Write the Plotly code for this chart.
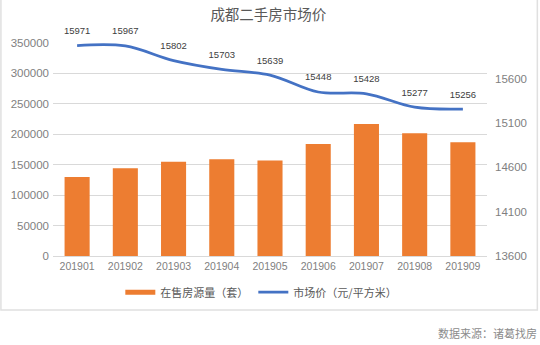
import plotly.graph_objects as go

# Chengdu second-hand housing: listings on sale vs. market price, 2019
months = ["201901", "201902", "201903", "201904", "201905",
          "201906", "201907", "201908", "201909"]
listings = [130000, 144000, 155000, 159000, 157000, 184000, 217000, 201500, 187000]
prices = [15971, 15967, 15802, 15703, 15639, 15448, 15428, 15277, 15256]

listing_name = "在售房源量（套）"
price_name = "市场价（元/平方米）"
title_text = "成都二手房市场价"
source_text = "数据来源：诸葛找房"

ORANGE = "#ED7D31"
BLUE = "#4472C4"
GRID = "#D9D9D9"
TICK = "#7F7F7F"
CJK = "Noto Sans CJK SC"

fig = go.Figure()

fig.add_trace(go.Bar(
    x=months, y=listings, name=listing_name,
    marker=dict(color=ORANGE, line=dict(width=0)),
    showlegend=False, yaxis="y",
))

# price line; invisible markers push the value labels up off the curve
fig.add_trace(go.Scatter(
    x=months, y=prices, name=price_name, yaxis="y2",
    mode="lines+markers+text", text=[str(p) for p in prices],
    textposition="top center",
    textfont=dict(family="Liberation Sans, Arial", size=9.5, color="#404040"),
    marker=dict(size=13, color="rgba(0,0,0,0)"),
    line=dict(color=BLUE, width=2.75, shape="spline", smoothing=1.0),
    showlegend=False, cliponaxis=False,
))

# legend swatches (Excel-style wide strokes)
fig.add_trace(go.Scatter(x=[None], y=[None], mode="lines", name=listing_name,
                         line=dict(color=ORANGE, width=5)))
fig.add_trace(go.Scatter(x=[None], y=[None], mode="lines", name=price_name,
                         line=dict(color=BLUE, width=2.75)))

fig.update_layout(
    width=540, height=345,
    margin=dict(l=53, r=53, t=43, b=89),
    paper_bgcolor="white", plot_bgcolor="white",
    bargap=0.48,
    title=dict(text=title_text, x=0.497, xanchor="center", y=0.958, yanchor="middle",
               font=dict(family=CJK, size=14.5, color="#595959")),
    xaxis=dict(type="category", range=[-0.5, len(months) - 0.5],
               showgrid=False, showline=True, linecolor=GRID,
               linewidth=1, ticks="", zeroline=False, automargin=False,
               tickfont=dict(family="Liberation Sans, Arial", size=10.5, color=TICK)),
    yaxis=dict(range=[0, 350000], dtick=50000, tickformat="d",
               showgrid=True, gridcolor=GRID, gridwidth=1, zeroline=False,
               ticks="", showline=False, automargin=False, ticklabelstandoff=3,
               tickfont=dict(family="Liberation Sans, Arial", size=11.5, color=TICK)),
    yaxis2=dict(overlaying="y", side="right", range=[13600, 16000],
                tickvals=[13600, 14100, 14600, 15100, 15600], tickformat="d",
                showgrid=False, zeroline=False, ticks="", showline=False,
                ticklabelstandoff=7, automargin=False,
                tickfont=dict(family="Liberation Sans, Arial", size=11.5, color=TICK)),
    legend=dict(orientation="h", x=0.48, xanchor="center", y=-0.17, yanchor="middle",
                font=dict(family=CJK, size=11, color="#595959"),
                itemwidth=30, bgcolor="rgba(0,0,0,0)", tracegroupgap=0),
    showlegend=True,
)

# light frame around the chart area
fig.add_shape(type="rect", xref="paper", yref="paper",
              x0=-0.12, x1=1.116, y0=-0.2535, y1=1.205,
              line=dict(color="#E0E0E0", width=1.5), fillcolor="rgba(0,0,0,0)",
              layer="below")

fig.add_annotation(text=source_text, xref="paper", yref="paper",
                   x=1.12, xanchor="right", y=-0.36, yanchor="middle",
                   showarrow=False,
                   font=dict(family=CJK, size=11, color="#8C8C8C"))

fig.write_html("out.html")
